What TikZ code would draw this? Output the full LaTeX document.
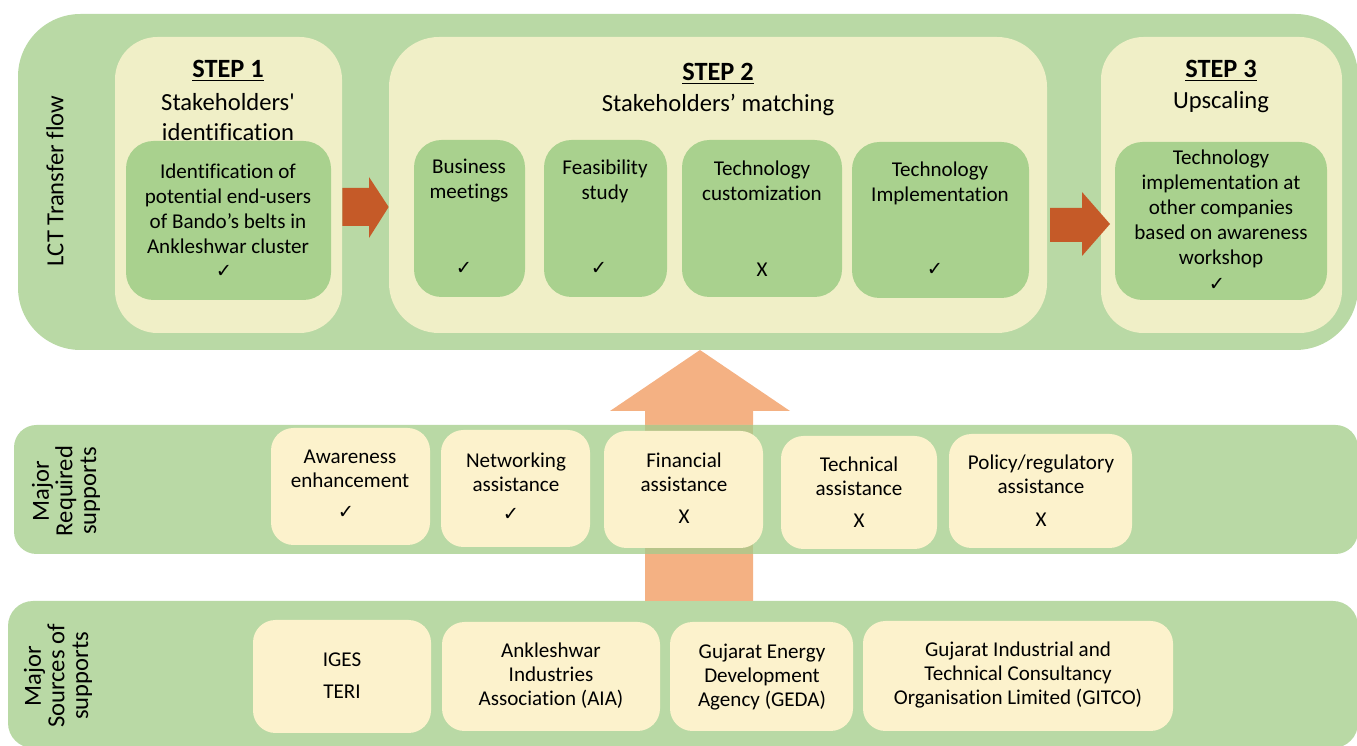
\documentclass[tikz,border=0pt]{standalone}
\usepackage{fontspec}
\setmainfont[Ligatures={TeX,CommonOff}]{Carlito}
\newfontfamily\symfont{DejaVu Sans}
\usetikzlibrary{fit}
\definecolor{band}{RGB}{185,217,165}
\definecolor{overlap}{RGB}{183,197,138}
\definecolor{panel}{RGB}{240,239,199}
\definecolor{inner}{RGB}{169,209,142}
\definecolor{cream}{RGB}{252,242,204}
\definecolor{rust}{RGB}{197,90,40}
\definecolor{peach}{RGB}{244,177,131}
\newcommand{\ck}{{\symfont\fontsize{11}{12}\selectfont ✓}}
\begin{document}
\begin{tikzpicture}[x=0.02cm,y=-0.02cm,
  bandbox/.style={fill=band, draw=none, inner sep=0pt},
  panelbox/.style={fill=panel, draw=none, inner sep=0pt, rounded corners=0.85cm},
  innerbox/.style={fill=inner, draw=none, inner sep=0pt, rounded corners=0.55cm},
  creambox/.style={fill=cream, draw=none, inner sep=0pt, rounded corners=0.45cm},
  txt/.style={align=center, inner sep=0pt, font=\fontsize{12}{14.2}\selectfont},
  txtb/.style={align=center, inner sep=0pt, font=\fontsize{12}{13.6}\selectfont},
  steplbl/.style={inner sep=0pt, font=\fontsize{15}{17}\selectfont\bfseries},
  stepsub/.style={align=center, inner sep=0pt, font=\fontsize{14}{17}\selectfont},
  sidelbl/.style={align=center, inner sep=0pt, rotate=90, font=\fontsize{14}{13.4}\selectfont},
  blockarrow/.style={fill=rust, draw=none},
  uparrow/.style={fill=peach, draw=none}]
\useasboundingbox (0,0) rectangle (1357,746);

% bands
\node[bandbox, rounded corners=1.25cm, fit={(18,14) (1358,350)}] (top) {};
\node[bandbox, rounded corners=0.5cm, fit={(8,601) (1358,748)}] (bot) {};

% up arrow
\path[uparrow] (645,601) -- (645,411) -- (610,411) -- (700,350) -- (790,411) -- (753,411) -- (753,601) -- cycle;

\node[bandbox, rounded corners=0.45cm, fit={(14,425) (1358,554)}] (mid) {};
\fill[overlap] (645,425) rectangle (753,554);

% side labels
\node[sidelbl] (lct) at (55,181) {LCT Transfer flow};
\node[sidelbl] (req) at (66,491) {Major\\Required\\supports};
\node[sidelbl] (src) at (58,676) {Major\\Sources of\\supports};

% step panels
\node[panelbox, fit={(115,37) (342,333)}] (p1) {};
\node[panelbox, rounded corners=1.0cm, fit={(389,37) (1047,333)}] (p2) {};
\node[panelbox, fit={(1101,37) (1342,333)}] (p3) {};

\node[steplbl] (s1) at (228,71) {\underline{STEP 1}};
\node[stepsub] (s1t) at (228,117) {Stakeholders\textquotesingle\\identification};
\node[steplbl] (s2) at (718,74) {\underline{STEP 2}};
\node[stepsub] (s2t) at (718,105) {Stakeholders’ matching};
\node[steplbl] (s3) at (1221,71) {\underline{STEP 3}};
\node[stepsub] (s3t) at (1221,102) {Upscaling};

% inner boxes
\node[innerbox, fit={(126,141) (331,300)}] (i1) {};
\node[txt] (i1t) at (228,209) {Identification of\\potential end-users\\of Bando’s belts in\\Ankleshwar cluster};
\node[inner sep=0pt] (i1c) at (224,271) {\ck};

\node[innerbox, fit={(414,140) (525,297)}] (b1) {};
\node[txt] (b1t) at (469,181) {Business\\meetings};
\node[inner sep=0pt] (b1c) at (464,268) {\ck};
\node[innerbox, fit={(544,140) (667,297)}] (b2) {};
\node[txt] (b2t) at (605,181) {Feasibility\\study};
\node[inner sep=0pt] (b2c) at (599,268) {\ck};
\node[innerbox, fit={(682,140) (842,297)}] (b3) {};
\node[txt] (b3t) at (762,181) {Technology\\customization};
\node[txt] (b3c) at (762,270) {X};
\node[innerbox, fit={(852,142) (1029,298)}] (b4) {};
\node[txt] (b4t) at (940,183) {Technology\\Implementation};
\node[inner sep=0pt] (b4c) at (935,269) {\ck};

\node[innerbox, fit={(1115,142) (1327,300)}] (i3) {};
\node[txt] (i3t) at (1221,209) {Technology\\implementation at\\other companies\\based on awareness\\workshop};
\node[inner sep=0pt] (i3c) at (1217,284) {\ck};

% block arrows between steps
\path[blockarrow] (p1.east |- 0,188) -- (369,188) -- (369,177) -- (p2.west |- 0,207) -- (369,238) -- (369,226) -- (p1.east |- 0,226) -- cycle;
\path[blockarrow] (1050,208) -- (1082,208) -- (1082,192) -- (1110,224) -- (1082,256) -- (1082,242) -- (1050,242) -- cycle;

% required supports
\node[creambox, fit={(271,428) (430,545)}] (r1) {};
\node[txtb] (r1t) at (350,469) {Awareness\\enhancement};
\node[inner sep=0pt] (r1c) at (346,512) {\ck};
\node[creambox, fit={(441,430) (590,547)}] (r2) {};
\node[txtb] (r2t) at (516,472) {Networking\\assistance};
\node[inner sep=0pt] (r2c) at (511,514) {\ck};
\node[creambox, fit={(604,431) (763,548)}] (r3) {};
\node[txtb] (r3t) at (684,472) {Financial\\assistance};
\node[txtb] (r3c) at (684,517) {X};
\node[creambox, fit={(781,436) (937,549)}] (r4) {};
\node[txtb] (r4t) at (859,476) {Technical\\assistance};
\node[txtb] (r4c) at (859,521) {X};
\node[creambox, fit={(949,434) (1132,548)}] (r5) {};
\node[txtb] (r5t) at (1041,474) {Policy/regulatory\\assistance};
\node[txtb] (r5c) at (1041,520) {X};

% sources of supports
\node[creambox, fit={(253,620) (431,733)}] (q1) {};
\node[txtb] (q1a) at (342,660) {IGES};
\node[txtb] (q1b) at (342,692) {TERI};
\node[creambox, fit={(442,622) (660,731)}] (q2) {};
\node[txtb] (q2t) at (551,676) {Ankleshwar\\Industries\\Association (AIA)};
\node[creambox, fit={(670,622) (853,731)}] (q3) {};
\node[txtb] (q3t) at (762,677) {Gujarat Energy\\Development\\Agency (GEDA)};
\node[creambox, fit={(863,621) (1173,731)}] (q4) {};
\node[txtb] (q4t) at (1018,675) {Gujarat Industrial and\\Technical Consultancy\\Organisation Limited (GITCO)};
\end{tikzpicture}
\end{document}
